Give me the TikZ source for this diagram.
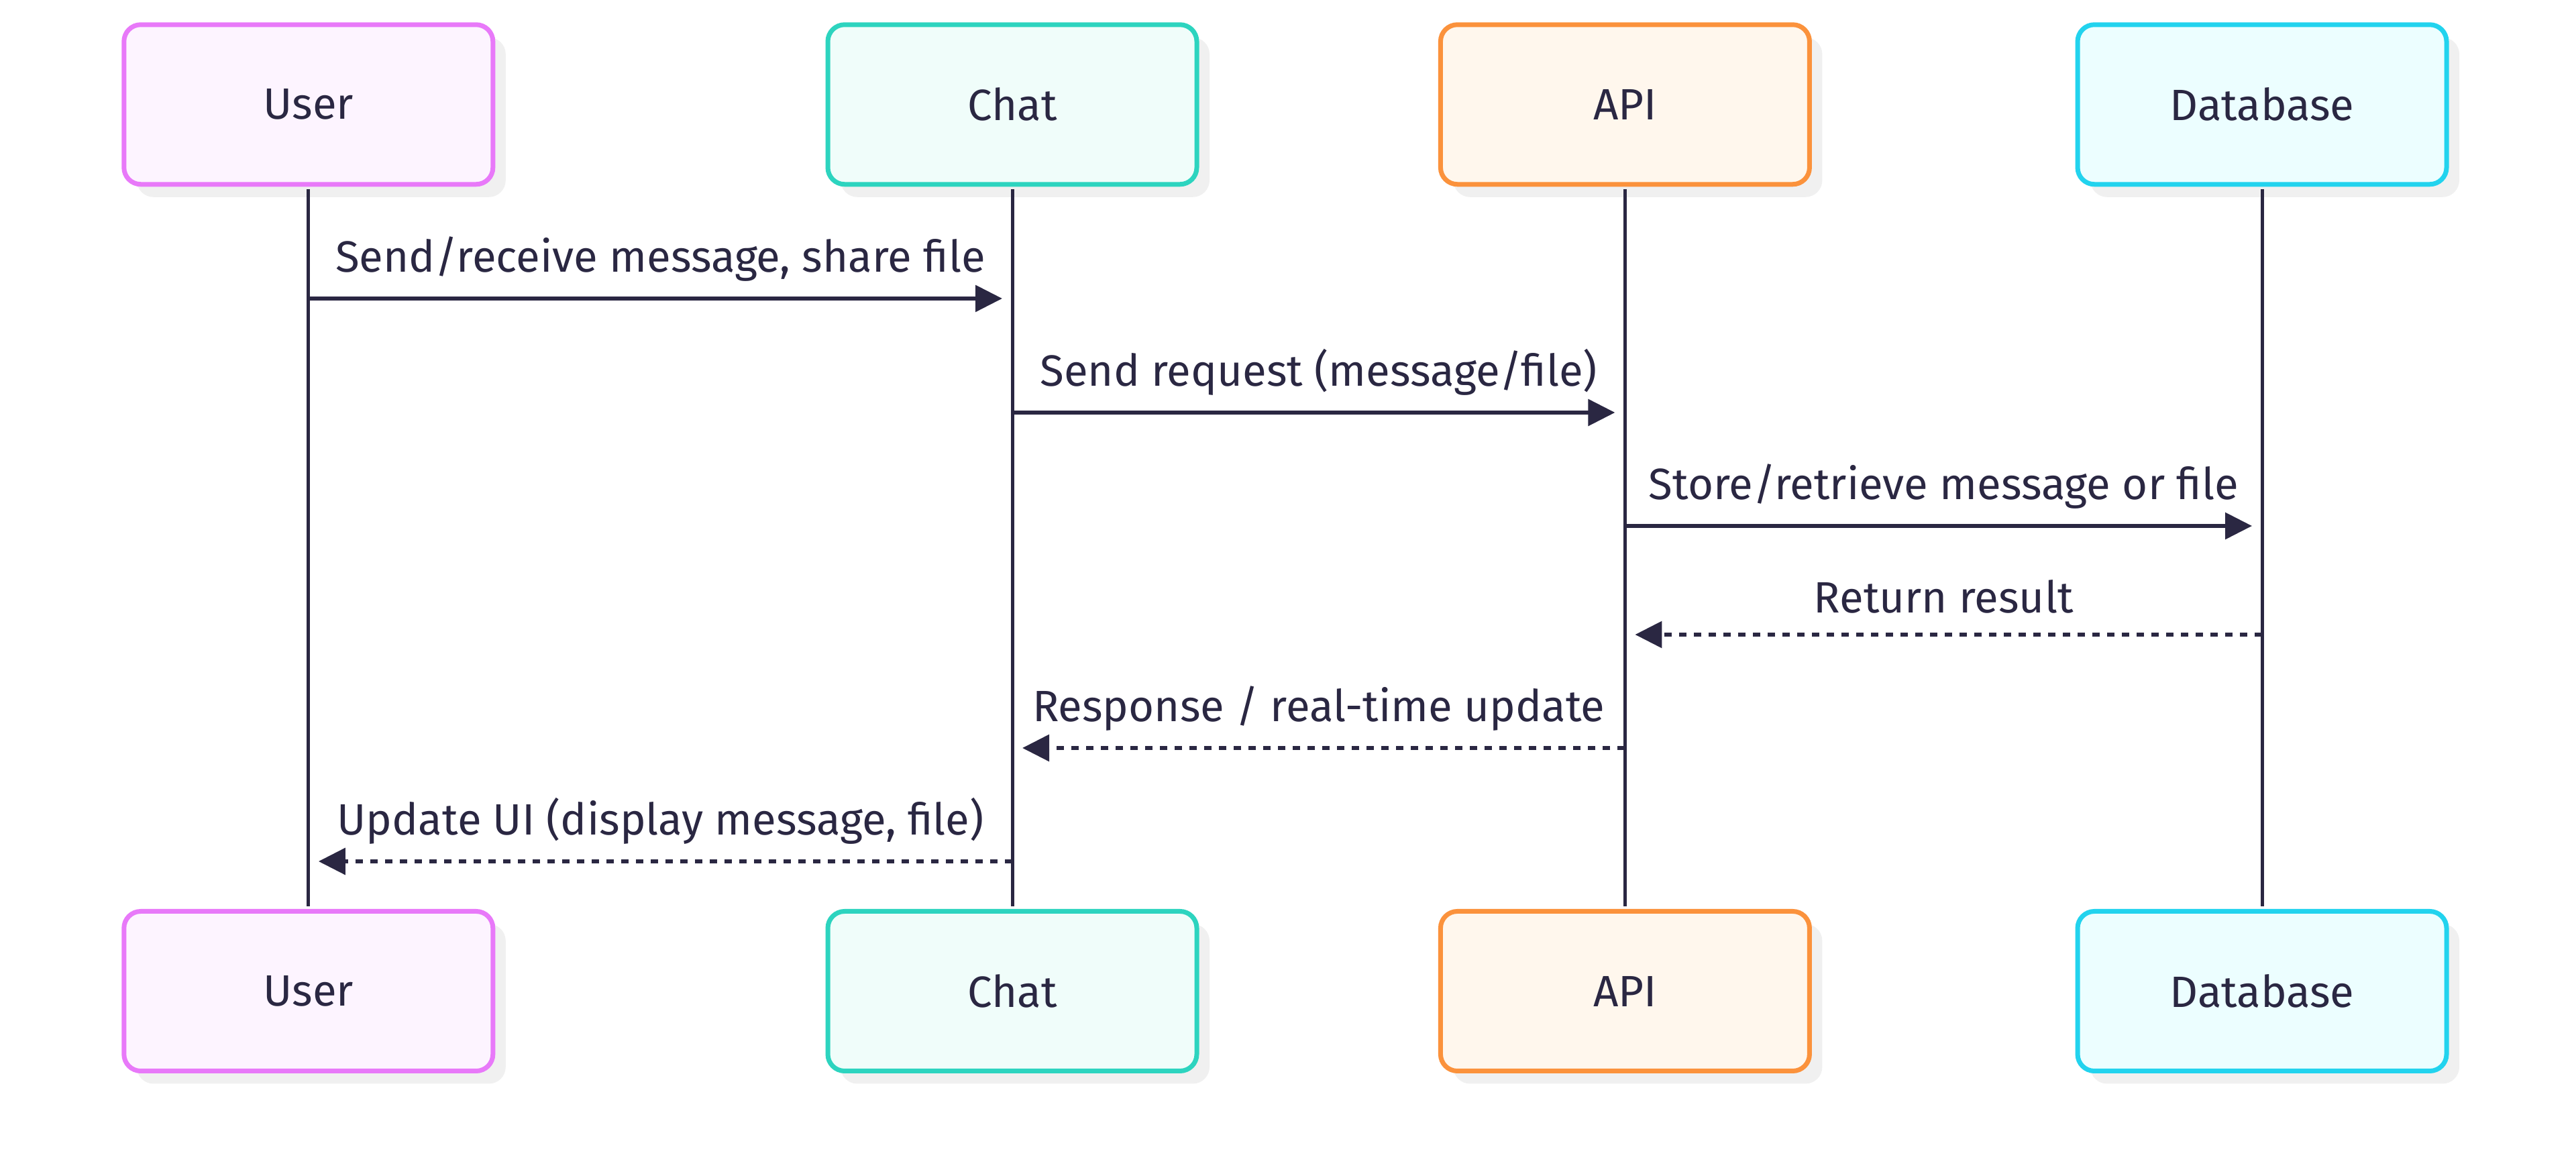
\documentclass[tikz,border=0pt]{standalone}
\usepackage{fontspec}
\setmainfont{Fira Sans}
\usetikzlibrary{arrows.meta,shadows}

\definecolor{ink}{HTML}{2A2742}
\definecolor{shade}{HTML}{F0F0F0}
\definecolor{userline}{HTML}{E879F9}
\definecolor{userfill}{HTML}{FDF4FF}
\definecolor{chatline}{HTML}{2DD4BF}
\definecolor{chatfill}{HTML}{F0FDFA}
\definecolor{apiline}{HTML}{FB923C}
\definecolor{apifill}{HTML}{FFF7ED}
\definecolor{dbline}{HTML}{22D3EE}
\definecolor{dbfill}{HTML}{ECFEFF}

\tikzset{
  actor/.style args={#1/#2}{draw=#1,fill=#2,line width=0.07cm,rounded corners=0.25cm,
    minimum width=5.5cm,minimum height=2.38cm,
    drop shadow={shadow xshift=0.19cm,shadow yshift=-0.19cm,fill=shade,opacity=1}},
  lifeline/.style={draw=ink,line width=0.05cm,shorten <=0.035cm,shorten >=0.035cm},
  call/.style={draw=ink,line width=0.06cm,shorten >=0.15cm,
    -{Triangle[length=0.4cm,width=0.39cm]}},
  reply/.style={call,dash pattern=on 0.11cm off 0.11cm},
  msglabel/.style={midway,anchor=base,yshift=0.39cm}
}

\begin{document}
\begin{tikzpicture}[every text node part/.style={align=center},
    font=\fontsize{18.6}{22}\selectfont,text=ink]
  \useasboundingbox (0,0) rectangle (38.4,17.53);

    % --------------------------------------------------------- %
    % ------------- participants (top and bottom)
    % --------------------------------------------------------- %
    \node[actor={userline/userfill}] (usertop) at (4.598,15.972) {User};
    \node[actor={chatline/chatfill}] (chattop) at (15.09,15.972) {Chat};
    \node[actor={apiline/apifill}] (apitop) at (24.224,15.972) {API};
    \node[actor={dbline/dbfill}] (dbtop) at (33.72,15.972) {Database};

    \node[actor={userline/userfill}] (userbot) at (4.598,2.755) {User};
    \node[actor={chatline/chatfill}] (chatbot) at (15.09,2.755) {Chat};
    \node[actor={apiline/apifill}] (apibot) at (24.224,2.755) {API};
    \node[actor={dbline/dbfill}] (dbbot) at (33.72,2.755) {Database};

    % --------------------------------------------------------- %
    % ------------ lifelines
    % --------------------------------------------------------- %
    \draw[lifeline] (usertop) -- (userbot);
    \draw[lifeline] (chattop) -- (chatbot);
    \draw[lifeline] (apitop) -- (apibot);
    \draw[lifeline] (dbtop) -- (dbbot);

    % --------------------------------------------------------- %
    % ------------ messages
    % --------------------------------------------------------- %
    \coordinate (m1a) at (4.598,13.08);  \coordinate (m1b) at (15.09,13.08);
    \draw[call] (m1a) to node[msglabel] (m1txt) {Send/receive message, share file} (m1b);

    \coordinate (m2a) at (15.09,11.38);  \coordinate (m2b) at (24.224,11.38);
    \draw[call] (m2a) to node[msglabel] (m2txt) {Send request (message/file)} (m2b);

    \coordinate (m3a) at (24.224,9.69);  \coordinate (m3b) at (33.72,9.69);
    \draw[call] (m3a) to node[msglabel] (m3txt) {Store/retrieve message or file} (m3b);

    \coordinate (m4a) at (33.72,8.07);   \coordinate (m4b) at (24.224,8.07);
    \draw[reply] (m4a) to node[msglabel,yshift=-0.07cm] (m4txt) {Return result} (m4b);

    \coordinate (m5a) at (24.224,6.38);  \coordinate (m5b) at (15.09,6.38);
    \draw[reply] (m5a) to node[msglabel] (m5txt) {Response / real-time update} (m5b);

    \coordinate (m6a) at (15.09,4.69);   \coordinate (m6b) at (4.598,4.69);
    \draw[reply] (m6a) to node[msglabel] (m6txt) {Update UI (display message, file)} (m6b);

  \end{tikzpicture}
\end{document}
